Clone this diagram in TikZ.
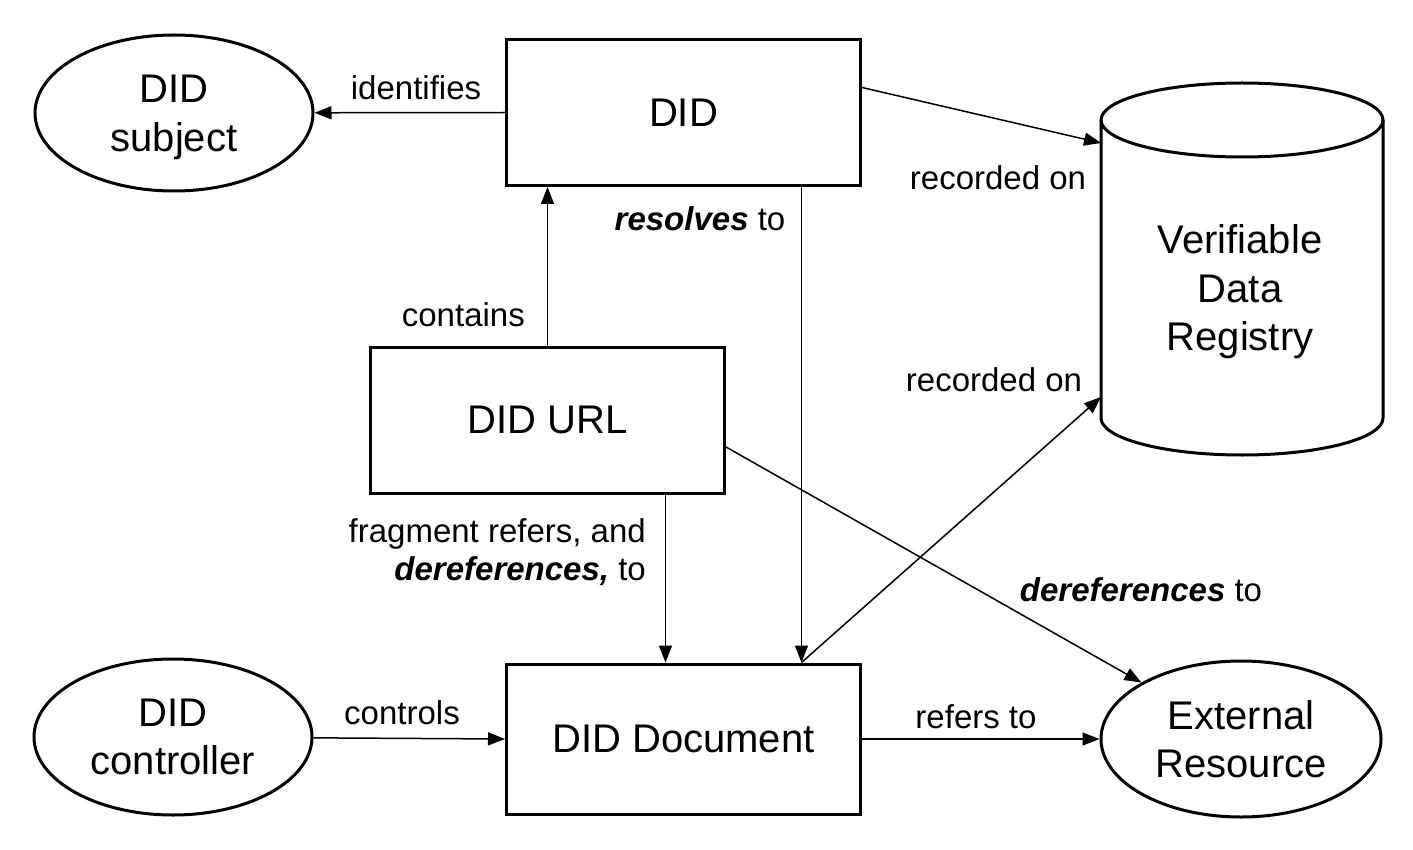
\documentclass[tikz,border=0pt]{standalone}
\usepackage{fontspec}
\setmainfont{Liberation Sans}
\usetikzlibrary{arrows.meta,shapes.geometric,calc}
\newcommand\mainsz{\fontsize{40}{48.5}\selectfont}
\newcommand\lblsz{\fontsize{33}{38}\selectfont}
\begin{document}
\begin{tikzpicture}[x=1pt,y=-1pt,
  box/.style={draw, line width=3pt, minimum width=354pt, minimum height=146pt,
    inner sep=0pt, font=\mainsz},
  oval/.style={draw, ellipse, line width=3pt, inner sep=0pt, align=center,
    minimum width=278pt, minimum height=156pt, font=\mainsz},
  conn/.style={line width=1.5pt, -{Triangle[length=17pt,width=13pt]}},
  lbl/.style={font=\lblsz, inner sep=0pt, anchor=base},
]
\useasboundingbox (0,0) rectangle (1413,850);

% entities
\node[oval] (subj) at (174,113) {DID\\\smash{subject}};
\node[box] (did) at (683.5,112.5) {DID};
\node[box] (url) at (547.5,420) {DID URL};
\node[box, minimum height=150pt] (doc) at (683.5,739) {DID Document};
\node[oval] (ctrl) at (173,737) {DID\\controller};
\node[oval, minimum width=280pt] (ext) at (1241,739) {External\\Resource};

% verifiable data registry (cylinder)
\node[minimum width=282pt, minimum height=372pt, inner sep=0pt, outer sep=0pt]
  (vdr) at (1242,269) {};
\coordinate (ctop) at ($(vdr.north)+(0,37)$);
\coordinate (cbot) at ($(vdr.south)+(0,-37)$);
\draw[line width=3pt] (ctop) ellipse[x radius=141pt, y radius=37pt];
\draw[line width=3pt] (ctop -| vdr.west) -- (cbot -| vdr.west)
  arc[start angle=180, end angle=360, x radius=141pt, y radius=37pt]
  -- (ctop -| vdr.east);
\node[font=\mainsz, align=center, inner sep=0pt] (vdrtext) at (1240,292)
  {Verifiable\\Data\\Registry};

% connector end points
\coordinate (didr) at ($(did.east)+(0,-25)$);
\coordinate (vdr1) at ($(vdr.west)+(0,-126)$);
\coordinate (vdr2) at ($(vdr.west)+(0,128)$);
\coordinate (res) at ($(did.south)+(118,0)$);
\coordinate (frag) at ($(url.south)+(118,0)$);
\coordinate (urlr) at ($(url.east)+(0,27)$);

% connectors
\draw[conn] (did.west) -- (subj);
\draw[conn] (didr) -- (vdr1);
\draw[conn] (url.north) -- (url.north |- did.south);
\draw[conn] (res) -- (res |- doc.north);
\draw[conn] (frag) -- (frag |- doc.north);
\draw[conn] (res |- doc.north) -- (vdr2);
\draw[conn] (urlr) -- (ext);
\draw[conn] (ctrl) -- (doc.west);
\draw[conn] (doc.east) -- (ext);

% connector labels
\node[lbl] (lid) at (416,100) {identifies};
\node[lbl, anchor=base east] (lcont) at (525,326) {contains};
\node[lbl] (lres) at (700,231) {\textbf{\textit{resolves}} to};
\node[lbl] (lrec1) at (998,190) {recorded on};
\node[lbl] (lrec2) at (994,391) {recorded on};
\node[font=\lblsz, align=right, inner sep=0pt, anchor=north east] (lfrag)
  at (646,518) {fragment refers, and\\\textbf{\textit{dereferences,}} to};
\node[lbl] (lderef) at (1141,601) {\textbf{\textit{dereferences}} to};
\node[lbl] (lctrl) at (402,724) {controls};
\node[lbl] (lref) at (976,728) {refers to};
\end{tikzpicture}
\end{document}
